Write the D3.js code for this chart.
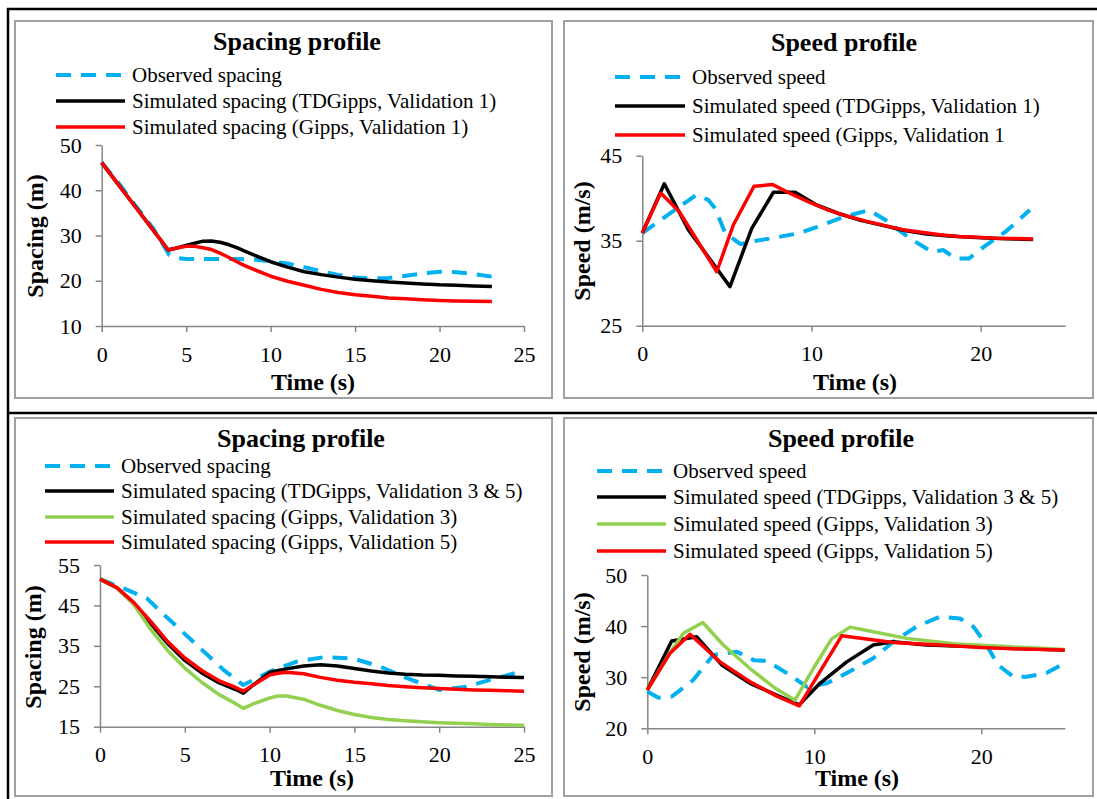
<!DOCTYPE html>
<html><head><meta charset="utf-8">
<script src="https://cdn.jsdelivr.net/npm/d3@7"></script>
<style>
body{margin:0;background:#fff}
svg{display:block}
text{font-family:"Liberation Serif","Times New Roman",serif;fill:#000}
</style>
</head><body>
<svg id="c" width="1097" height="799"></svg>
<script>
// ---------------- DATA ----------------
// Panel 1: spacing, validation 1
const t1Obs = [0,1,2,3,3.5,4,4.5,5,6,7,8,9,10,11,12,13,14,15,16,17,18,19,20,21,22,23.1];
const obsSpacing1 = [46.1,41.6,36.6,31.8,28.8,25.7,25.0,24.8,24.8,24.8,24.8,24.7,24.3,23.8,23.0,22.1,21.3,20.7,20.5,20.6,21.1,21.6,22.0,21.9,21.5,20.9];
const t1Sim = [0,1,2,3,3.94,4.5,5,5.5,6,6.5,7,7.5,8,8.5,9,10,11,12,13,14,15,16,17,18,19,20,21,22,23.1];
const tdSpacing1 = [46.1,41.2,36.3,31.4,26.8,27.3,27.8,28.3,28.75,28.8,28.5,28.0,27.3,26.5,25.7,24.2,23.0,22.0,21.35,20.8,20.35,20.0,19.7,19.5,19.3,19.1,19.0,18.85,18.75];
const gSpacing1 = [46.1,41.2,36.3,31.4,26.8,27.3,27.6,27.6,27.3,26.9,26.1,25.2,24.2,23.3,22.5,21.0,19.9,19.0,18.1,17.4,16.9,16.55,16.2,16.0,15.8,15.65,15.55,15.45,15.4];

// Panel 2: speed, validation 1
const t2Obs = [0,1.2,2.2,3.2,3.9,4.3,4.9,5.8,6.4,7.7,9.3,10.3,11.9,13.4,14.4,15.8,17.1,17.8,18.5,19.3,20.2,21.5,22.9];
const obsSpeed1 = [35.9,37.6,39.0,40.4,39.8,38.8,35.9,34.6,34.9,35.3,35.9,36.6,37.8,38.6,37.4,35.3,33.7,33.9,32.9,32.9,34.3,36.1,38.6];
const t2Td = [0,1.3,2.72,5.18,6.47,7.75,9.04,10.3,11.6,12.9,14.2,15.5,16.8,18.1,19.4,20.7,22.0,23.1];
const tdSpeed1 = [35.9,41.7,36.3,29.6,36.45,40.7,40.7,39.2,38.2,37.4,36.8,36.2,35.8,35.55,35.4,35.3,35.2,35.15];
const t2G = [0,1.09,2.19,4.4,5.38,6.6,7.71,8.8,9.9,11,12.1,13.2,14.3,15.4,16.5,17.6,18.7,19.8,20.9,22,23.1];
const gSpeed1 = [35.9,40.6,38.4,31.35,36.85,41.4,41.6,40.5,39.5,38.6,37.9,37.3,36.8,36.3,36.0,35.7,35.5,35.4,35.3,35.25,35.2];

// Panel 3: spacing, validation 3 & 5
const t3Obs = [0,1.4,2.75,3.8,5.5,7.3,8.45,10,11.6,13.2,14.9,16.5,18.1,20,21.6,23,24.9];
const obsSpacing35 = [51.5,49.2,46.8,42.6,36.0,29.0,25.3,28.6,31.1,32.2,31.9,29.9,27.0,24.1,24.9,26.6,28.7];
const t3Sim = [0,1,2,3,4,5,6,7,8,8.45,9,10,10.5,11,12,13,14,15,16,17,18,19,20,21,22,23,24,25];
const tdSpacing35 = [51.5,49.3,45.4,40.5,35.5,31.4,28.3,25.9,24.2,23.3,25.2,28.4,28.9,29.3,30.0,30.3,30.0,29.4,28.8,28.3,28.0,27.8,27.7,27.55,27.45,27.35,27.25,27.2];
const gSpacing3 = [51.5,49.3,45.2,39.0,33.8,29.5,26.0,23.0,20.7,19.55,20.6,22.1,22.6,22.6,21.8,20.3,19.0,18.0,17.3,16.8,16.5,16.2,16.0,15.85,15.7,15.55,15.45,15.35];
const gSpacing5 = [51.5,49.4,45.7,41.0,36.0,32.0,28.9,26.4,24.7,23.8,25.2,27.8,28.2,28.45,28.1,27.2,26.5,26.0,25.6,25.2,24.9,24.65,24.45,24.25,24.1,24.0,23.9,23.8];

// Panel 4: speed, validation 3 & 5
const t4Obs = [0,0.66,1.46,2.75,3.95,5.35,6.4,7.15,8.55,9.55,10.74,11.94,13.53,14.73,16.13,17.53,18.72,19.52,20.32,21.0,21.92,22.72,23.9,25];
const obsSpeed35 = [27.2,26.0,26.2,29.45,34.35,35.0,33.3,33.2,30.4,28.1,28.8,30.8,33.7,36.95,39.9,41.85,41.5,39.9,36.3,32.4,30.1,30.1,30.8,32.8];
const t4Td = [0,1.46,2.96,4.46,6.15,7.95,9.1,10.34,11.94,13.53,14.7,16.7,19.5,22,25];
const tdSpeed35 = [27.5,37.1,37.9,32.4,28.8,26.2,24.6,28.8,33.0,36.3,36.95,36.3,36.0,35.6,35.3];
const t4G3 = [0,1.36,2.16,3.32,4.55,6.15,7.55,8.84,9.94,11.04,12.14,13.53,15.53,18.5,21.5,25];
const gSpeed3 = [27.5,34.8,38.6,40.7,36.3,31.7,28.1,25.5,31.7,37.5,39.8,38.9,37.6,36.5,36.0,35.4];
const t4G5 = [0,1.36,2.56,4.35,6.15,7.75,9.1,10.34,11.64,14.73,17.5,20,22.5,25];
const gSpeed5 = [27.5,34.7,38.4,33.0,29.1,26.3,24.4,31.1,38.1,36.8,36.3,35.8,35.5,35.3];

// Ticks & labels
const xTicks5 = [0,5,10,15,20,25];
const xTicks10 = [0,10,20];
const yTicks1 = [10,20,30,40,50];
const yTicks2 = [25,35,45];
const yTicks3 = [15,25,35,45,55];
const yTicks4 = [20,30,40,50];
const titles = ['Spacing profile','Speed profile','Spacing profile','Speed profile'];
const yTitles = ['Spacing (m)','Speed (m/s)','Spacing (m)','Speed (m/s)'];
const xTitle = 'Time (s)';
const legend1 = ['Observed spacing','Simulated spacing (TDGipps, Validation 1)','Simulated spacing (Gipps, Validation 1)'];
const legend2 = ['Observed speed','Simulated speed (TDGipps, Validation 1)','Simulated speed (Gipps, Validation 1'];
const legend3 = ['Observed spacing','Simulated spacing (TDGipps, Validation 3 & 5)','Simulated spacing (Gipps, Validation 3)','Simulated spacing (Gipps, Validation 5)'];
const legend4 = ['Observed speed','Simulated speed (TDGipps, Validation 3 & 5)','Simulated speed (Gipps, Validation 3)','Simulated speed (Gipps, Validation 5)'];

// ---------------- STYLE ----------------
const C_OBS='#00B0F0', C_TD='#000000', C_G3='#92D050', C_G5='#FF0000';
const obsStyle={color:C_OBS,dash:'15,10',w:4};
const tdStyle={color:C_TD,dash:null,w:3.5};
const g3Style={color:C_G3,dash:null,w:3.5};
const g5Style={color:C_G5,dash:null,w:3.5};

const panels=[
 {frame:[15,21,552,398], xr:[101.7,524], yr:[326,145], yd:[10,50], xt:xTicks5, yt:yTicks1,
  title:titles[0], tx:297, ty:50, yTitle:yTitles[0], ybx:43, ycy:236, xtx:313, xty:390,
  leg:[56,125,132], legY:[75,101,127], labels:legend1,
  series:[[t1Obs,obsSpacing1,obsStyle],[t1Sim,tdSpacing1,tdStyle],[t1Sim,gSpacing1,g5Style]]},
 {frame:[564,21,1093,398], xr:[642.3,1065.3], yr:[325.7,155.7], yd:[25,45], xt:xTicks10, yt:yTicks2,
  title:titles[1], tx:844, ty:51, yTitle:yTitles[1], ybx:590, ycy:241, xtx:855, xty:390,
  leg:[615,685,692], legY:[77,106,135], labels:legend2,
  series:[[t2Obs,obsSpeed1,obsStyle],[t2Td,tdSpeed1,tdStyle],[t2G,gSpeed1,g5Style]]},
 {frame:[15,418,552,796], xr:[100,524], yr:[726.7,565], yd:[15,55], xt:xTicks5, yt:yTicks3,
  title:titles[2], tx:301, ty:446.5, yTitle:yTitles[2], ybx:40.5, ycy:647, xtx:312, xty:786,
  leg:[45,114,121], legY:[466,491,517,542], labels:legend3,
  series:[[t3Obs,obsSpacing35,obsStyle],[t3Sim,tdSpacing35,tdStyle],[t3Sim,gSpacing3,g3Style],[t3Sim,gSpacing5,g5Style]]},
 {frame:[564,418,1093,796], xr:[647.3,1064.8], yr:[728.3,575], yd:[20,50], xt:xTicks10, yt:yTicks4,
  title:titles[3], tx:841, ty:446.5, yTitle:yTitles[3], ybx:590, ycy:652, xtx:857, xty:786,
  leg:[597,666,673], legY:[471,497,524,551], labels:legend4,
  series:[[t4Obs,obsSpeed35,obsStyle],[t4Td,tdSpeed35,tdStyle],[t4G3,gSpeed3,g3Style],[t4G5,gSpeed5,g5Style]]}
];

// ---------------- DRAW ----------------
const svg=d3.select('#c');
svg.append('rect').attr('width',1097).attr('height',799).attr('fill','#fff');

panels.forEach(p=>{
  const [fx0,fy0,fx1,fy1]=p.frame;
  svg.append('rect').attr('x',fx0).attr('y',fy0).attr('width',fx1-fx0).attr('height',fy1-fy0)
    .attr('fill','#fff').attr('stroke','#a0a0a0').attr('stroke-width',2);

  const x=d3.scaleLinear().domain([0,25]).range(p.xr);
  const y=d3.scaleLinear().domain(p.yd).range(p.yr);

  const gx=svg.append('g').attr('transform',`translate(0,${p.yr[0]})`)
    .call(d3.axisBottom(x).tickValues(p.xt).tickSize(6).tickSizeOuter(0).tickPadding(14).tickFormat(d3.format('d')));
  const gy=svg.append('g').attr('transform',`translate(${p.xr[0]},0)`)
    .call(d3.axisLeft(y).tickValues(p.yt).tickSize(6).tickSizeOuter(0).tickPadding(14).tickFormat(d3.format('d')));
  [gx,gy].forEach(g=>{
    g.select('.domain').attr('stroke','#868686').attr('stroke-width',1.5);
    g.selectAll('.tick line').attr('stroke','#868686').attr('stroke-width',1.5);
    g.selectAll('.tick text').attr('font-size',22).attr('fill','#000')
      .style('font-family','"Liberation Serif","Times New Roman",serif');
  });

  const line=d3.line().x(d=>x(d[0])).y(d=>y(d[1]));
  p.series.forEach(([ts,vs,st])=>{
    const pts=ts.map((t,i)=>[t,vs[i]]);
    svg.append('path').datum(pts).attr('d',line).attr('fill','none')
      .attr('stroke',st.color).attr('stroke-width',st.w)
      .attr('stroke-dasharray',st.dash).attr('stroke-linejoin','round');
  });

  // title
  svg.append('text').attr('x',p.tx).attr('y',p.ty).attr('text-anchor','middle')
    .attr('font-size',26).attr('font-weight','bold').text(p.title);
  // legend
  p.series.forEach(([ts,vs,st],i)=>{
    const ly=p.legY[i];
    svg.append('line').attr('x1',p.leg[0]).attr('x2',p.leg[1]).attr('y1',ly).attr('y2',ly)
      .attr('stroke',st.color).attr('stroke-width',st.w).attr('stroke-dasharray',st.dash);
    svg.append('text').attr('x',p.leg[2]).attr('y',ly+7).attr('font-size',21).text(p.labels[i]);
  });
  // axis titles
  svg.append('text').attr('x',p.xtx).attr('y',p.xty).attr('text-anchor','middle')
    .attr('font-size',24).attr('font-weight','bold').text(xTitle);
  svg.append('text').attr('transform',`translate(${p.ybx},${p.ycy}) rotate(-90)`)
    .attr('text-anchor','middle').attr('font-size',24).attr('font-weight','bold').text(p.yTitle);
});

// black table lines
svg.append('line').attr('x1',7).attr('x2',1097).attr('y1',9).attr('y2',9).attr('stroke','#000').attr('stroke-width',2.5);
svg.append('line').attr('x1',7).attr('x2',1097).attr('y1',413).attr('y2',413).attr('stroke','#000').attr('stroke-width',2.5);
svg.append('line').attr('x1',8).attr('x2',8).attr('y1',8).attr('y2',799).attr('stroke','#000').attr('stroke-width',2.5);
</script>
</body></html>
